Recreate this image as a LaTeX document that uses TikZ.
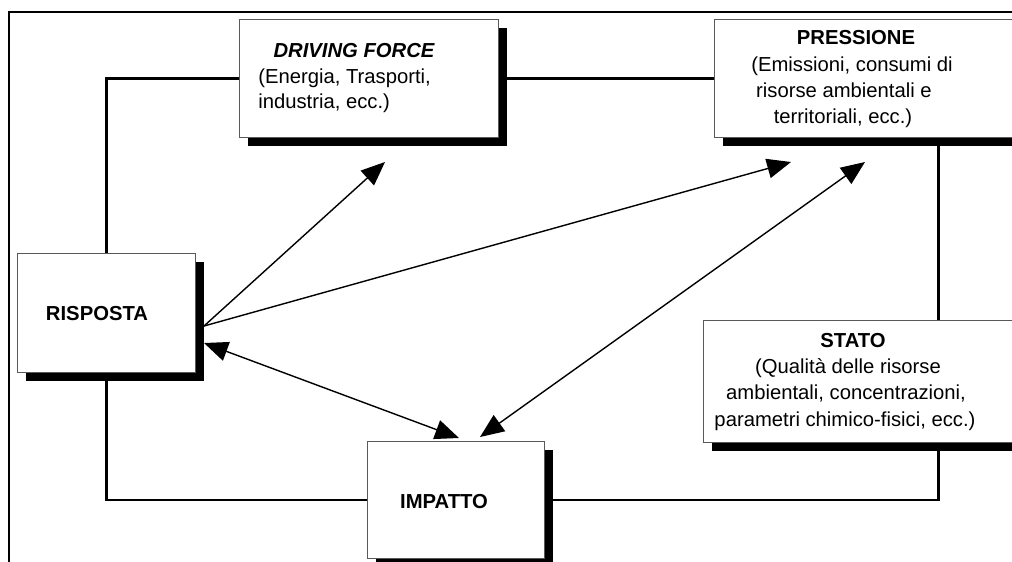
\documentclass[tikz,border=0pt]{standalone}
\usepackage{fontspec}
\setmainfont{Liberation Sans}
\usetikzlibrary{arrows.meta,shadows,positioning}

\newcommand{\pxu}{0.025cm}

\tikzset{
  box/.style={draw=black!65, line width=0.6pt, fill=white, anchor=north west, inner sep=0pt,
    drop shadow={shadow xshift=6pt, shadow yshift=-6pt, opacity=1, fill=black, draw=none}},
  link/.style={line width=1.7pt},
  arr/.style={line width=1pt, -{Triangle[length=17pt,width=14pt]}},
  darr/.style={line width=1pt, {Triangle[length=17pt,width=14pt]}-{Triangle[length=17pt,width=14pt]}},
  lbl/.style={font=\fontsize{14.4}{18}\selectfont, anchor=base, inner sep=0pt},
  ttl/.style={lbl, font=\fontsize{14.4}{18}\selectfont\bfseries},
}

\begin{document}
\begin{tikzpicture}[x=\pxu, y=-\pxu]
\useasboundingbox (0,0) rectangle (1012,561);
\clip (0,0) rectangle (1012,561);

% frame
\draw[line width=1.6pt] (9,600) -- (9,12) -- (1030,12);

% boxes
\node[box, minimum width=259*\pxu, minimum height=118*\pxu] (df) at (239,19) {};
\node[box, minimum width=448*\pxu, minimum height=118*\pxu] (press) at (714,19) {};
\node[box, minimum width=470*\pxu, minimum height=122*\pxu] (stato) at (703,320) {};
\node[box, minimum width=178*\pxu, minimum height=119*\pxu] (risp) at (17,253) {};
\node[box, minimum width=177*\pxu, minimum height=117*\pxu] (imp) at (367,441) {};

% links between boxes
\draw[link] (df.west) -| (risp.north);
\draw[link] (df.east) -- (press.west);
\draw[link] (press.south) -- (stato.north);
\draw[link] (stato.south) |- (imp.east);
\draw[link] (imp.west) -| (risp.south);

% texts
\node[ttl, font=\fontsize{14.4}{18}\selectfont\bfseries\itshape] (df-t) at (354,57) {DRIVING FORCE};
\node[lbl, anchor=base west] (df-1) at (258,83) {(Energia, Trasporti,};
\node[lbl, anchor=base west] (df-2) at (258,108) {industria, ecc.)};

\node[ttl] (press-t) at (856,44) {PRESSIONE};
\node[lbl] (press-1) at (852,71) {(Emissioni, consumi di};
\node[lbl] (press-2) at (844,97) {risorse ambientali e};
\node[lbl] (press-3) at (843,123) {territoriali, ecc.)};

\node[ttl] (stato-t) at (853,347) {STATO};
\node[lbl] (stato-1) at (848,373) {(Qualità delle risorse};
\node[lbl] (stato-2) at (846,399) {ambientali, concentrazioni,};
\node[lbl] (stato-3) at (845,426) {parametri chimico-fisici, ecc.)};

\node[ttl] (risp-t) at (97,320) {RISPOSTA};
\node[ttl] (imp-t) at (444,508) {IMPATTO};

% arrows
\coordinate (r-up) at (204,326);
\coordinate (r-low) at (204,343);
\coordinate (df-in) at (385,162);
\coordinate (press-in) at (791,162);
\coordinate (press-io) at (865,162);
\coordinate (imp-a) at (459,438);
\coordinate (imp-b) at (480,437);

\draw[arr] (r-up) -- (df-in);
\draw[arr] (r-up) -- (press-in);
\draw[darr] (press-io) -- (imp-b);
\draw[darr] (r-low) -- (imp-a);
\end{tikzpicture}
\end{document}
